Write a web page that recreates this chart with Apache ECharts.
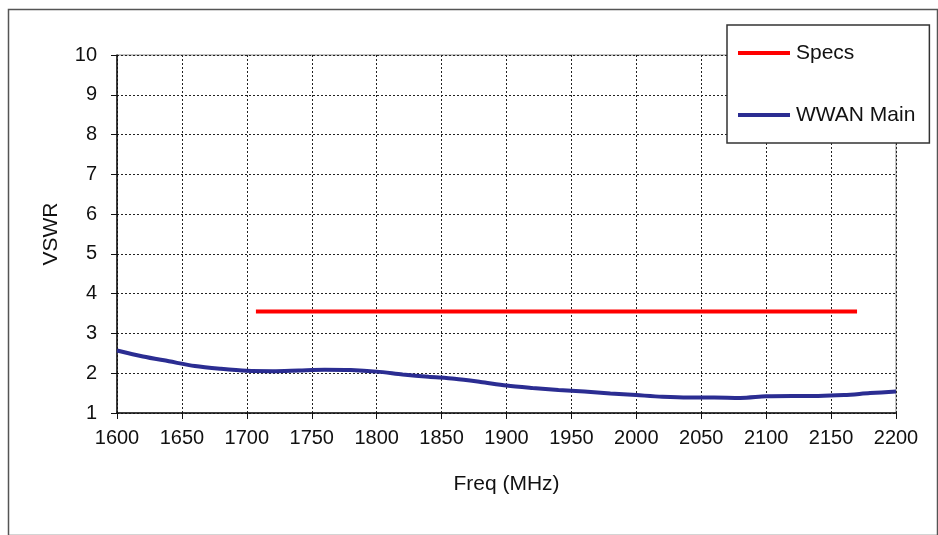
<!DOCTYPE html>
<html>
<head>
<meta charset="utf-8">
<script src="https://cdn.jsdelivr.net/npm/echarts@6/dist/echarts.min.js"></script>
<style>html,body{margin:0;padding:0;background:#fff}#c{width:938px;height:535px}</style>
</head>
<body>
<div id="c"></div>
<script>
const freqs = [1600,1620,1640,1660,1680,1700,1720,1740,1760,1780,1800,1820,1840,1860,1880,1900,1920,1940,1960,1980,2000,2020,2040,2060,2080,2100,2120,2140,2160,2180,2200];
const wwanMain = [2.57,2.42,2.30,2.18,2.11,2.06,2.05,2.07,2.09,2.08,2.04,1.97,1.91,1.86,1.78,1.69,1.63,1.58,1.54,1.49,1.45,1.41,1.39,1.39,1.38,1.42,1.43,1.43,1.45,1.50,1.54];
const specsFreq = [1707, 2170];
const specsVal = [3.55, 3.55];
const xTicks = [1600,1650,1700,1750,1800,1850,1900,1950,2000,2050,2100,2150,2200];
const yTicks = [1,2,3,4,5,6,7,8,9,10];

const chart = echarts.init(document.getElementById('c'), null, {renderer:'canvas'});
const font = 'Liberation Sans, Arial, sans-serif';
chart.setOption({
  animation:false,
  backgroundColor:'#fff',
  textStyle:{fontFamily:font},
  graphic:[{type:'rect', left:6, top:7, shape:{width:929, height:526}, style:{fill:'none', stroke:'#555', lineWidth:1.5}, z:-10}],
  grid:{left:117, right:42, top:55, bottom:122, show:true, borderColor:'#888', borderWidth:1},
  legend:{
    orient:'vertical', left:727, top:25,
    backgroundColor:'#fff', borderColor:'#333', borderWidth:1.5,
    padding:[17,14,17,11], itemGap:40, itemWidth:52, itemHeight:4,
    textStyle:{fontFamily:font, fontSize:21, lineHeight:22, color:'#111', padding:[0,0,0,1]},
    data:[{name:'Specs', icon:'rect'},{name:'WWAN Main', icon:'rect'}]
  },
  xAxis:{
    type:'value', min:1600, max:2200, interval:50,
    name:'Freq (MHz)', nameLocation:'middle', nameGap:61,
    nameTextStyle:{fontFamily:font, fontSize:21, color:'#111'},
    axisLine:{show:true, onZero:false, lineStyle:{color:'#111', width:1.5}},
    axisTick:{show:true, length:6, lineStyle:{color:'#111'}},
    axisLabel:{fontFamily:font, fontSize:20, color:'#111', margin:15,
      formatter:v=>xTicks.includes(v)?String(v):''},
    splitLine:{show:true, lineStyle:{color:'#222', type:[2,2], width:1}}
  },
  yAxis:{
    type:'value', min:1, max:10, interval:1,
    name:'VSWR', nameLocation:'middle', nameGap:55,
    nameTextStyle:{fontFamily:font, fontSize:21, color:'#111'},
    axisLine:{show:true, onZero:false, lineStyle:{color:'#111', width:1.5}},
    axisTick:{show:true, length:6, lineStyle:{color:'#111'}},
    axisLabel:{fontFamily:font, fontSize:20, color:'#111', margin:20,
      formatter:v=>yTicks.includes(v)?String(v):''},
    splitLine:{show:true, lineStyle:{color:'#222', type:[2,2], width:1}}
  },
  series:[
    {name:'Specs', type:'line', data:specsFreq.map((f,i)=>[f,specsVal[i]]),
      showSymbol:false, lineStyle:{color:'#ff0000', width:4}, itemStyle:{color:'#ff0000'}, z:3},
    {name:'WWAN Main', type:'line', data:freqs.map((f,i)=>[f,wwanMain[i]]),
      showSymbol:false, smooth:0.3, lineStyle:{color:'#2b2d92', width:4}, itemStyle:{color:'#2b2d92'}, z:4}
  ]
});
</script>
</body>
</html>
